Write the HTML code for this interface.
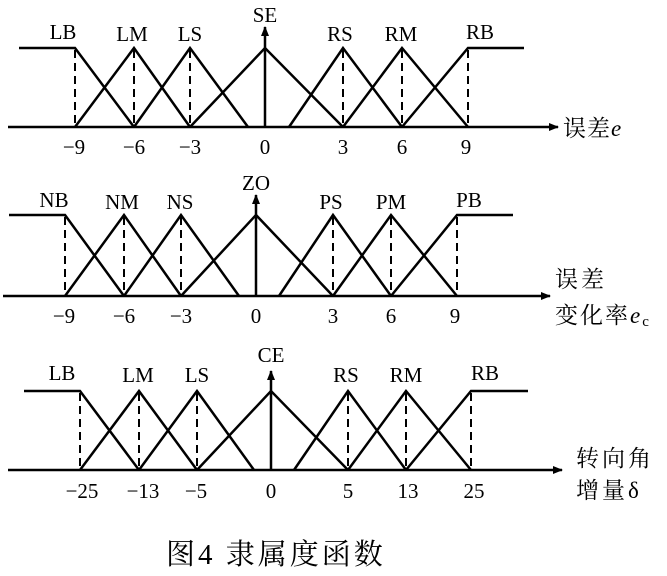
<!DOCTYPE html>
<html><head><meta charset="utf-8"><style>
html,body{margin:0;padding:0;background:#fff}
svg{display:block}
text{font-family:"Liberation Serif","Noto Serif CJK SC",serif;fill:#000}
</style></head><body>
<svg width="667" height="576" viewBox="0 0 667 576" xmlns="http://www.w3.org/2000/svg">
<defs><marker id="ar" markerWidth="10" markerHeight="8" refX="9" refY="4" orient="auto" markerUnits="userSpaceOnUse"><path d="M0,0 L10,4 L0,8 Z" fill="#000"/></marker></defs>
<g stroke="#000" stroke-width="2.5" fill="none">
<line x1="8" y1="127" x2="558" y2="127" marker-end="url(#ar)"/>
<line x1="265" y1="127" x2="265" y2="27" marker-end="url(#ar)"/>
<polyline points="19,48 75,48 134,127"/>
<polyline points="75,127 134,48 190,127"/>
<polyline points="134,127 190,48 248,127"/>
<polyline points="190,127 265,48 343,127"/>
<polyline points="289,127 343,48 402,127"/>
<polyline points="343,127 402,48 468,127"/>
<polyline points="402,127 468,48 524,48"/>
<g stroke-dasharray="8,5" stroke-width="2"><line x1="75" y1="50" x2="75" y2="127"/><line x1="134" y1="50" x2="134" y2="127"/><line x1="190" y1="50" x2="190" y2="127"/><line x1="343" y1="50" x2="343" y2="127"/><line x1="402" y1="50" x2="402" y2="127"/><line x1="468" y1="50" x2="468" y2="127"/></g>
<line x1="3" y1="296" x2="550" y2="296" marker-end="url(#ar)"/>
<line x1="256" y1="296" x2="256" y2="195" marker-end="url(#ar)"/>
<polyline points="9,215 65,215 124,296"/>
<polyline points="65,296 124,215 181,296"/>
<polyline points="124,296 181,215 239,296"/>
<polyline points="181,296 256,215 333,296"/>
<polyline points="279,296 333,215 391,296"/>
<polyline points="333,296 391,215 457,296"/>
<polyline points="391,296 457,215 513,215"/>
<g stroke-dasharray="8,5" stroke-width="2"><line x1="65" y1="217" x2="65" y2="296"/><line x1="124" y1="217" x2="124" y2="296"/><line x1="181" y1="217" x2="181" y2="296"/><line x1="333" y1="217" x2="333" y2="296"/><line x1="391" y1="217" x2="391" y2="296"/><line x1="457" y1="217" x2="457" y2="296"/></g>
<line x1="8" y1="470" x2="562" y2="470" marker-end="url(#ar)"/>
<line x1="271" y1="470" x2="271" y2="371" marker-end="url(#ar)"/>
<polyline points="24,391 80,391 139,470"/>
<polyline points="80,470 139,391 197,470"/>
<polyline points="139,470 197,391 254,470"/>
<polyline points="197,470 271,391 348,470"/>
<polyline points="294,470 348,391 406,470"/>
<polyline points="348,470 406,391 471,470"/>
<polyline points="406,470 471,391 528,391"/>
<g stroke-dasharray="8,5" stroke-width="2"><line x1="80" y1="393" x2="80" y2="470"/><line x1="139" y1="393" x2="139" y2="470"/><line x1="197" y1="393" x2="197" y2="470"/><line x1="348" y1="393" x2="348" y2="470"/><line x1="406" y1="393" x2="406" y2="470"/><line x1="471" y1="393" x2="471" y2="470"/></g>
</g>
<g font-size="21" text-anchor="middle">
<text x="63" y="39">LB</text><text x="132" y="41">LM</text><text x="190" y="41">LS</text><text x="265" y="22">SE</text><text x="340" y="41">RS</text><text x="401" y="41">RM</text><text x="480" y="39">RB</text>
<text x="74" y="154">−9</text><text x="134" y="154">−6</text><text x="190" y="154">−3</text><text x="265" y="154">0</text><text x="343" y="154">3</text><text x="402" y="154">6</text><text x="466" y="154">9</text>
<text x="54" y="207">NB</text><text x="122" y="209">NM</text><text x="180" y="209">NS</text><text x="256" y="190">ZO</text><text x="331" y="209">PS</text><text x="391" y="209">PM</text><text x="469" y="207">PB</text>
<text x="64" y="323">−9</text><text x="124" y="323">−6</text><text x="181" y="323">−3</text><text x="256" y="323">0</text><text x="333" y="323">3</text><text x="391" y="323">6</text><text x="455" y="323">9</text>
<text x="62" y="380">LB</text><text x="138" y="382">LM</text><text x="197" y="382">LS</text><text x="271" y="362">CE</text><text x="346" y="382">RS</text><text x="406" y="382">RM</text><text x="485" y="380">RB</text>
<text x="82" y="498">−25</text><text x="143" y="498">−13</text><text x="196" y="498">−5</text><text x="271" y="498">0</text><text x="348" y="498">5</text><text x="408" y="498">13</text><text x="474" y="498">25</text>
</g>
<g font-size="23">
<text x="563" y="136" letter-spacing="1">误差<tspan font-style="italic">e</tspan></text>
<text x="555" y="287" letter-spacing="3">误差</text>
<text x="555" y="323" letter-spacing="2">变化率<tspan font-style="italic">e</tspan><tspan font-size="15" dy="3">c</tspan></text>
<text x="576" y="466" letter-spacing="3">转向角</text>
<text x="576" y="498" letter-spacing="3">增量δ</text>
</g>
<text x="166" y="564" font-size="29" letter-spacing="3">图4 隶属度函数</text>
</svg>
</body></html>
